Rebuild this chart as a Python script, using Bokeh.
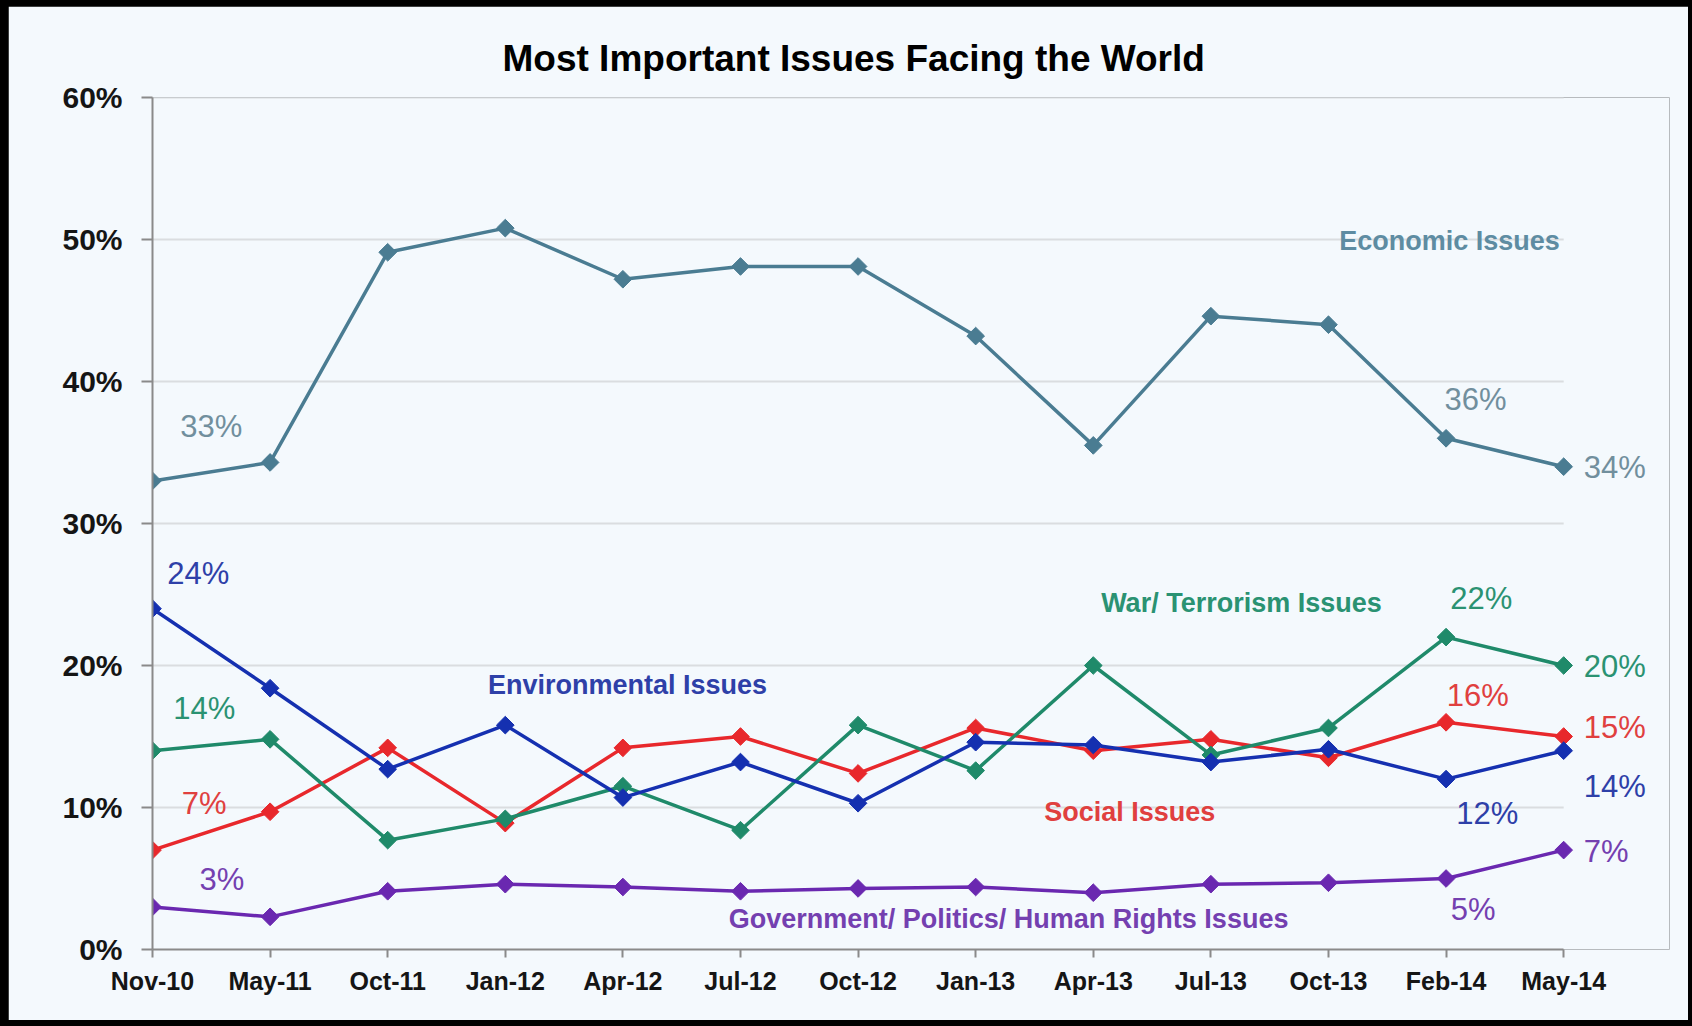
import numpy as np
from bokeh.plotting import figure
from bokeh.models import Range1d, FixedTicker, ColumnDataSource
from bokeh.layouts import column
from bokeh.core.properties import value
from bokeh.embed import file_html
from bokeh.resources import INLINE

# Survey waves (x categories)
surveys = ["Nov-10", "May-11", "Oct-11", "Jan-12", "Apr-12", "Jul-12", "Oct-12",
           "Jan-13", "Apr-13", "Jul-13", "Oct-13", "Feb-14", "May-14"]

# Share of respondents naming each issue (%)
economic = [33, 34.3, 49.1, 50.8, 47.2, 48.1, 48.1, 43.2, 35.5, 44.6, 44.0, 36, 34]
environmental = [24, 18.4, 12.7, 15.8, 10.7, 13.2, 10.3, 14.6, 14.4, 13.2, 14.1, 12, 14]
war_terrorism = [14, 14.8, 7.7, 9.2, 11.5, 8.4, 15.8, 12.6, 20.0, 13.7, 15.6, 22, 20]
social = [7, 9.7, 14.2, 8.9, 14.2, 15.0, 12.4, 15.6, 14.0, 14.8, 13.5, 16, 15]
government = [3, 2.3, 4.1, 4.6, 4.4, 4.1, 4.3, 4.4, 4.0, 4.6, 4.7, 5, 7]

y_ticks = [0, 10, 20, 30, 40, 50, 60]

FONT = "Liberation Sans"
BG = "#F4F9FD"

# name, values, line colour, label colour, series label (x, y),
# annotated points: (index, dx, dy, align)
series = [
    ("Government/ Politics/ Human Rights Issues", government, "#6A28B0", "#7440B0", (7.28, 2.15),
     [(0, 0.59, 1.95, "center"), (11, 0.23, -2.2, "center"), (12, 0.17, -0.1, "left")]),
    ("Social Issues", social, "#E8282C", "#E0403F", (8.31, 9.7),
     [(0, 0.44, 3.3, "center"), (11, 0.27, 1.9, "center"), (12, 0.17, 0.6, "left")]),
    ("War/ Terrorism Issues", war_terrorism, "#1F8A6A", "#2A9272", (9.26, 24.4),
     [(0, 0.44, 3.0, "center"), (11, 0.30, 2.7, "center"), (12, 0.17, -0.05, "left")]),
    ("Environmental Issues", environmental, "#1530B0", "#2E40A8", (4.04, 18.6),
     [(0, 0.39, 2.5, "center"), (11, 0.35, -2.45, "center"), (12, 0.17, -2.55, "left")]),
    ("Economic Issues", economic, "#4A7C92", "#5E8CA2", (11.03, 49.9),
     [(0, 0.50, 3.8, "center"), (11, 0.25, 2.7, "center"), (12, 0.17, -0.05, "left")]),
]
value_label_colors = {"Economic Issues": "#718F9D"}

p = figure(
    width=1680, height=1014,
    frame_width=1517, frame_height=852,
    min_border_left=144, min_border_right=19, min_border_top=91, min_border_bottom=71,
    x_range=Range1d(0, 12.9), y_range=Range1d(0, 60),
    output_backend="svg", toolbar_location=None,
    background_fill_color=BG, border_fill_color=BG,
)
p.outline_line_color = None
p.xgrid.visible = False
p.ygrid.visible = False

p.title.text = "Most Important Issues Facing the World"
p.title.text_font = FONT
p.title.text_font_size = "37px"
p.title.text_font_style = "bold"
p.title.text_color = "#000000"
p.title.align = "left"
p.title.offset = 350
p.title.standoff = 38

x = list(range(len(surveys)))

# horizontal gridlines spanning the surveyed period
p.segment(x0=[0] * len(y_ticks[1:]), x1=[x[-1]] * len(y_ticks[1:]), y0=y_ticks[1:], y1=y_ticks[1:],
          line_color="#DADDE0", line_width=2)

# axes
xa = p.xaxis[0]
xa.ticker = FixedTicker(ticks=x)
xa.major_label_overrides = {i: s for i, s in enumerate(surveys)}
xa.bounds = (0, x[-1])
xa.axis_line_color = "#8A8A8A"
xa.axis_line_width = 2
xa.major_tick_line_color = "#8A8A8A"
xa.major_tick_line_width = 2
xa.major_tick_out = 8
xa.major_tick_in = 0
xa.minor_tick_line_color = None
xa.major_label_standoff = 9
xa.major_label_text_font = FONT
xa.major_label_text_font_size = "25px"
xa.major_label_text_font_style = "bold"
xa.major_label_text_color = "#151515"

ya = p.yaxis[0]
ya.ticker = FixedTicker(ticks=y_ticks)
ya.major_label_overrides = {t: f"{t}%" for t in y_ticks}
ya.axis_line_color = "#8A8A8A"
ya.axis_line_width = 2
ya.major_tick_line_color = "#8A8A8A"
ya.major_tick_line_width = 2
ya.major_tick_out = 11
ya.major_tick_in = 0
ya.minor_tick_line_color = None
ya.major_label_standoff = 19
ya.major_label_text_font = FONT
ya.major_label_text_font_size = "30px"
ya.major_label_text_font_style = "bold"
ya.major_label_text_color = "#151515"

for name, vals, color, lab_color, (lx, ly), notes in series:
    src = ColumnDataSource(dict(x=x, y=vals))
    p.line("x", "y", source=src, line_color=color, line_width=3.5)
    p.scatter("x", "y", source=src, marker="square", angle=np.pi / 4, size=12.5,
              fill_color=color, line_color=color)

    p.text(x=[lx], y=[ly], text=[name], text_color=lab_color,
           text_font=value(FONT), text_font_size="27px", text_font_style="bold",
           text_align="center", text_baseline="middle")

    vcol = value_label_colors.get(name, lab_color)
    for align in ("center", "left"):
        pts = [n for n in notes if n[3] == align]
        if not pts:
            continue
        p.text(x=[i + dx for i, dx, dy, a in pts],
               y=[vals[i] + dy for i, dx, dy, a in pts],
               text=[f"{round(vals[i])}%" for i, dx, dy, a in pts],
               text_color=vcol, text_font=value(FONT), text_font_size="31px",
               text_align=align, text_baseline="middle")

page = column(p, styles={"background-color": "#000000", "padding": "6px 4px 6px 8px"})

open("out.html", "w").write(file_html(page, INLINE))
